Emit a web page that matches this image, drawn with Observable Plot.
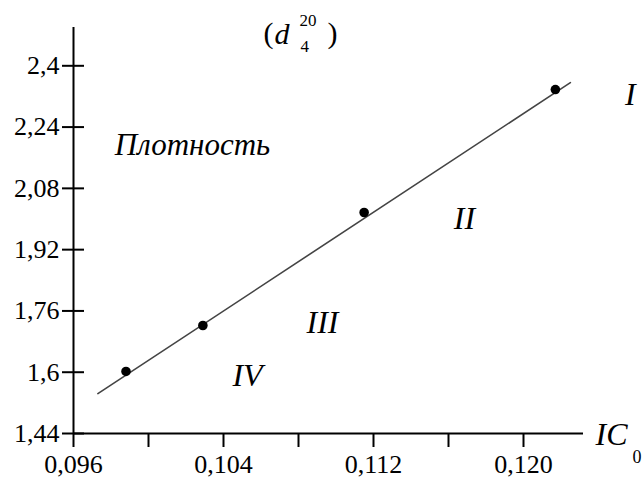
<!DOCTYPE html>
<html>
<head>
<meta charset="utf-8">
<script src="https://cdn.jsdelivr.net/npm/d3@7"></script>
<script src="https://cdn.jsdelivr.net/npm/@observablehq/plot@0.6"></script>
<style>
  body { margin: 0; background: #fff; }
  #chart svg { display: block; }
</style>
</head>
<body>
<div id="chart"></div>
<script>
// Measured samples: initial concentration IC0 against density d4^20
const ic0 = [0.0988, 0.1029, 0.1115, 0.1217];
const density = [1.602, 1.722, 2.017, 2.338];

// Ends of the fitted straight line
const fitIc0 = [0.0973, 0.1225];
const fitDensity = [1.544, 2.356];

// Axis ticks and their labels (decimal comma)
const xTicks = [0.096, 0.100, 0.104, 0.108, 0.112, 0.116, 0.120];
const xTickLabels = ["0,096", "", "0,104", "", "0,112", "", "0,120"];
const yTicks = [1.44, 1.6, 1.76, 1.92, 2.08, 2.24, 2.4];
const yTickLabels = ["1,44", "1,6", "1,76", "1,92", "2,08", "2,24", "2,4"];

// Region labels and where they sit in data space
const regionNames = ["I", "II", "III", "IV"];
const regionIc0 = [0.1257, 0.11685, 0.10928, 0.10528];
const regionDensity = [2.325, 2.001, 1.730, 1.591];

const points = ic0.map((x, i) => ({x, y: density[i]}));
const fit = fitIc0.map((x, i) => ({x, y: fitDensity[i]}));
const regions = regionNames.map((name, i) => ({name, x: regionIc0[i], y: regionDensity[i]}));

const serif = "'Liberation Serif', 'Times New Roman', serif";
const corner = (anchor, text, opts) =>
  Plot.text([text], {frameAnchor: anchor, textAnchor: "start", lineAnchor: "middle", fill: "#000", ...opts});

const chart = Plot.plot({
  width: 643,
  height: 479,
  marginLeft: 73,
  marginRight: 60,
  marginTop: 27,
  marginBottom: 46,
  style: {fontFamily: serif, fontSize: "26px", background: "#fff", color: "#000", overflow: "visible"},
  x: {domain: [0.096, 0.1232]},
  y: {domain: [1.44, 2.5]},
  marks: [
    Plot.axisX({
      ticks: xTicks,
      tickFormat: d => xTickLabels[xTicks.indexOf(d)],
      tickSize: 14,
      tickPadding: 7,
      strokeWidth: 2,
      label: null
    }),
    Plot.axisY({
      ticks: yTicks,
      tickFormat: d => yTickLabels[yTicks.indexOf(d)],
      tickSize: 22,
      dx: 11,
      tickPadding: 3,
      strokeWidth: 2,
      label: null
    }),
    Plot.ruleX([0.096], {stroke: "#000", strokeWidth: 2}),
    Plot.ruleY([1.44], {stroke: "#000", strokeWidth: 2}),
    Plot.line(fit, {x: "x", y: "y", stroke: "#444", strokeWidth: 1.6}),
    Plot.dot(points, {x: "x", y: "y", r: 4.8, fill: "#000"}),
    Plot.text(regions, {x: "x", y: "y", text: "name", fontSize: 32, fontStyle: "italic", fill: "#000"}),
    // Quantity name inside the plot area
    Plot.text(["Плотность"], {frameAnchor: "top-left", dx: 119, dy: 118, textAnchor: "middle", lineAnchor: "middle", fontSize: 31, fontStyle: "italic", fill: "#000"}),
    // (d with sub/superscripts) above the plot
    corner("top-left", "(", {dx: 190, dy: 6, fontSize: 30}),
    corner("top-left", "d", {dx: 201, dy: 7, fontSize: 30, fontStyle: "italic"}),
    corner("top-left", "20", {dx: 226, dy: -7, fontSize: 17}),
    corner("top-left", "4", {dx: 227, dy: 19, fontSize: 17}),
    corner("top-left", ")", {dx: 254, dy: 6, fontSize: 30}),
    // x-axis name IC with subscript 0
    corner("bottom-right", "IC", {dx: 12, dy: 1, fontSize: 32, fontStyle: "italic"}),
    corner("bottom-right", "0", {dx: 49, dy: 24, fontSize: 18})
  ]
});

document.getElementById("chart").append(chart);
</script>
</body>
</html>
